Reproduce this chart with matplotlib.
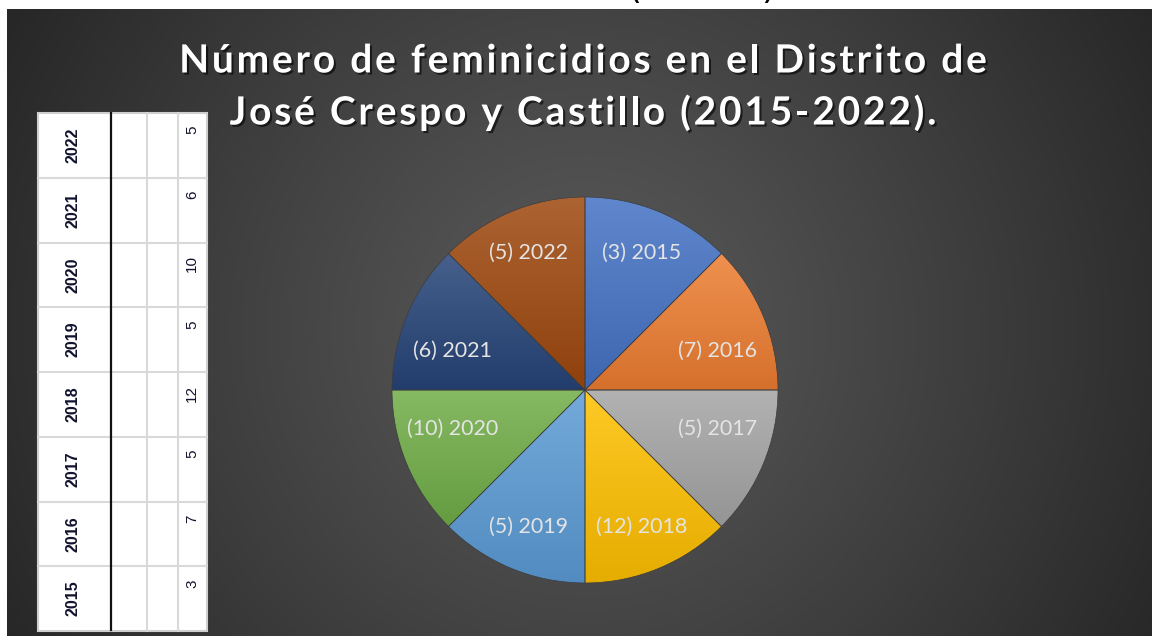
import numpy as np
import matplotlib
matplotlib.use('Agg')
import matplotlib.pyplot as plt
from matplotlib.colors import to_rgb
from matplotlib.patches import Rectangle
import matplotlib.patheffects as pe
from matplotlib.font_manager import findfont, FontProperties
from matplotlib import ft2font

# ---- data ----
years = ['2015', '2016', '2017', '2018', '2019', '2020', '2021', '2022']
cases = [3, 7, 5, 12, 5, 10, 6, 5]
slice_weights = [1, 1, 1, 1, 1, 1, 1, 1]   # the reference draws equal slices
colors = ['#4472C4', '#ED7D31', '#A5A5A5', '#FFC000',
          '#5B9BD5', '#70AD47', '#264478', '#9E480E']
title_lines = ['Número de feminicidios en el Distrito de',
               'José Crespo y Castillo (2015-2022).']

W, H = 1152, 636
DPI = 100
fig = plt.figure(figsize=(W / DPI, H / DPI), dpi=DPI, facecolor='white')
bg = fig.add_axes([0, 0, 1, 1])
bg.axis('off')

# radial gradient background panel
yy, xx = np.mgrid[9:H, 7:W]
cx, cy = 585, 330
d = np.clip(np.hypot(xx - cx, yy - cy) / 656, 0, 1)
c0, c1 = 0x5a / 255, 0x27 / 255
img = c0 + (c1 - c0) * d ** 1.1
bg.imshow(np.dstack([img] * 3), extent=(7, W, H, 9), zorder=1,
          interpolation='bilinear', aspect='auto')

# cut-off text at the very top of the slide
bg.text(628, -2, '(', fontsize=26, color='black', ha='left', va='baseline', zorder=0.5)
bg.text(775, -2, ')', fontsize=26, color='black', ha='right', va='baseline', zorder=0.5)

# ---- side table ----
tx0, tx1, ty0, ty1 = 38, 207, 113, 631
bg.add_patch(Rectangle((tx0, ty0), tx1 - tx0, ty1 - ty0, facecolor='white',
                       edgecolor='#cfcfcf', lw=1.5, zorder=2))
nrows = len(years)
rh = (ty1 - ty0) / nrows
for i in range(1, nrows):
    bg.plot([tx0, tx1], [ty0 + i * rh] * 2, color='#d9d9d9', lw=1.5, zorder=3)
for x in (147, 178):
    bg.plot([x, x], [ty0, ty1], color='#d9d9d9', lw=1.5, zorder=3)
bg.plot([111, 111], [ty0, ty1 - 1], color='#111111', lw=1.6, zorder=4)
tfont = ['Liberation Sans', 'DejaVu Sans']
for i, (yr, v) in enumerate(zip(years[::-1], cases[::-1])):
    top = ty0 + i * rh
    bg.text(73, top + rh / 2, yr, rotation=90, ha='center', va='center',
            fontsize=11.5, fontweight='bold', family=tfont, color='#10122e', zorder=5)
    bg.text(192, top + 13, str(v), rotation=90, ha='center', va='top',
            fontsize=11, family=tfont, color='#10122e', zorder=5)

# ---- title with letter spacing ----
tsize = 28
tprop = FontProperties(family='Lato', weight='bold', size=tsize)
ftf = ft2font.FT2Font(findfont(tprop))
ftf.set_size(tsize, DPI)
try:
    NOHINT = ft2font.LoadFlags.NO_HINTING
except AttributeError:
    NOHINT = ft2font.LOAD_NO_HINTING


def advances(s):
    out = []
    for c in s:
        g = ftf.load_char(ord(c), flags=NOHINT)
        out.append(g.linearHoriAdvance / 65536.0)
    return out


spacing = 2.8
shadow = [pe.withSimplePatchShadow(offset=(1.5, -1.5), shadow_rgbFace='black', alpha=0.6)]
for line, y in zip(title_lines, (58, 110)):
    adv = advances(line)
    total = sum(adv) + spacing * (len(line) - 1)
    x = 583 - total / 2
    for c, a in zip(line, adv):
        if c != ' ':
            bg.text(x, y, c, ha='left', va='center_baseline', fontproperties=tprop,
                    color='white', zorder=6, path_effects=shadow)
        x += a + spacing

bg.set_xlim(0, W)
bg.set_ylim(H, 0)

# ---- pie ----
R = 193
pax = fig.add_axes([(585 - R) / W, (H - 390 - R) / H, 2 * R / W, 2 * R / H])
labels = [f'({c}) {y}' for c, y in zip(cases, years)]
wedges, texts = pax.pie(slice_weights, colors=colors, startangle=90,
                        counterclock=False, radius=1, labels=labels,
                        labeldistance=0.74,
                        textprops=dict(color='#e4e4e4', fontsize=15.5, family='Lato'),
                        wedgeprops=dict(edgecolor='#3c3c3c', linewidth=0.5))

for w, t in zip(wedges, texts):
    mid = np.radians((w.theta1 + w.theta2) / 2)
    sx, sy = np.sign(np.cos(mid)), np.sign(np.sin(mid))
    alpha = np.arcsin(abs(np.sin(mid)))          # angle above/below horizontal
    if alpha < np.radians(45):
        # side slices: label box sits closer to the horizontal edge
        alpha -= np.radians(6)
        r = 0.715
    else:
        r = 0.77
    t.set_position((sx * r * np.cos(alpha), sy * r * np.sin(alpha)))
    t.set_ha('center')
    t.set_va('center')
    t.set_zorder(5)

for w, col in zip(wedges, colors):
    th = np.radians(np.linspace(w.theta1, w.theta2, 60))
    xs = np.concatenate([[0], np.cos(th)])
    ys = np.concatenate([[0], np.sin(th)])
    rgb = np.array(to_rgb(col))
    light = rgb + (1 - rgb) * 0.15
    dark = rgb * 0.9
    grad = light + np.linspace(0, 1, 256)[:, None, None] * (dark - light)
    im = pax.imshow(grad, extent=(xs.min(), xs.max(), ys.min(), ys.max()),
                    origin='upper', aspect='auto', zorder=2, interpolation='bilinear')
    im.set_clip_path(w)
    w.set_facecolor('none')
    w.set_zorder(3)

pax.set_xlim(-1, 1)
pax.set_ylim(-1, 1)
pax.set_aspect('equal')
pax.axis('off')

fig.savefig('out.png', dpi=DPI, facecolor='white')
